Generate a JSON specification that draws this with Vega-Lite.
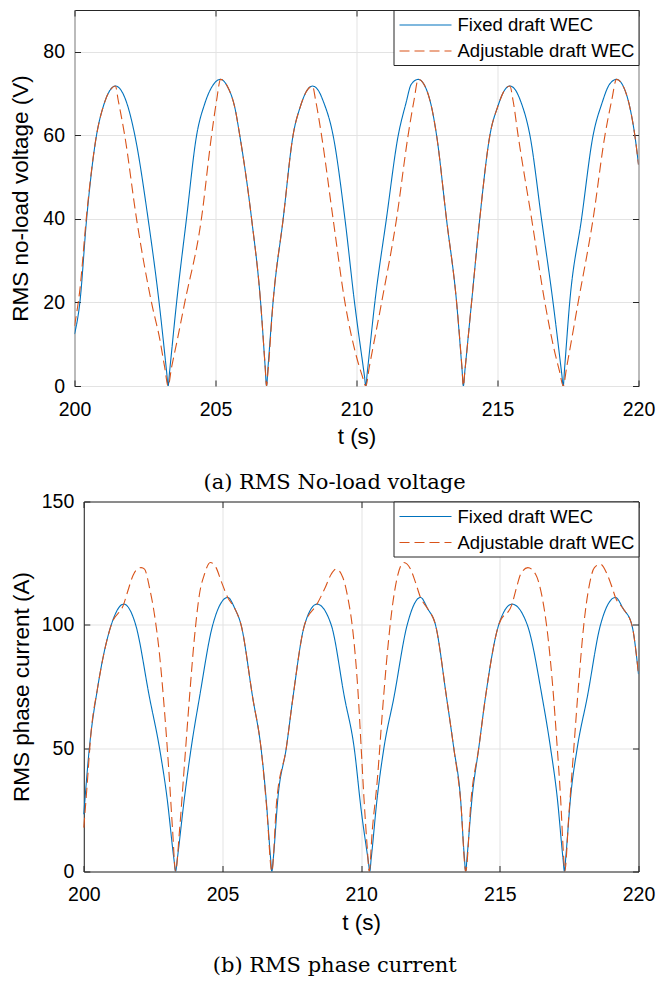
{
  "$schema": "https://vega.github.io/schema/vega-lite/v6.json",
  "padding": {"left": 8.5, "top": 9, "right": 5, "bottom": 0},
  "config": {
    "view": {"stroke": "#262626", "strokeWidth": 1},
    "axis": {
      "domain": false,
      "domainColor": "#262626",
      "domainWidth": 1,
      "grid": true,
      "gridColor": "#e3e3e3",
      "gridWidth": 1,
      "tickColor": "#262626",
      "tickSize": -6,
      "labelFont": "Liberation Sans",
      "labelFontSize": 19.5,
      "labelColor": "black",
      "titleFont": "Liberation Sans",
      "titleFontSize": 22.5,
      "titleFontWeight": "normal",
      "titleColor": "black"
    },
    "axisX": {"labelPadding": 20, "titlePadding": 7, "labelFlush": false},
    "axisY": {"labelPadding": 16, "titlePadding": 8},
    "legend": {
      "orient": "top-right",
      "offset": 0,
      "padding": 4,
      "strokeColor": "#262626",
      "fillColor": "white",
      "symbolType": "M-2.6,0H2.6",
      "symbolSize": 400,
      "symbolStrokeWidth": 1.1,
      "symbolOffset": 17,
      "labelOffset": 21,
      "labelFont": "Liberation Sans",
      "labelFontSize": 18.5,
      "labelColor": "black",
      "labelLimit": 400,
      "rowPadding": 5
    },
    "title": {"font": "DejaVu Serif", "fontSize": 21, "fontWeight": "normal", "color": "black"}
  },
  "datasets": {
    "voltage": [
      {"s": "Fixed draft WEC", "t": 200.0, "v": 12.4},
      {"s": "Fixed draft WEC", "t": 200.19, "v": 20},
      {"s": "Fixed draft WEC", "t": 200.43, "v": 40},
      {"s": "Fixed draft WEC", "t": 200.78, "v": 60},
      {"s": "Fixed draft WEC", "t": 201.02, "v": 66.9},
      {"s": "Fixed draft WEC", "t": 201.25, "v": 70.7},
      {"s": "Fixed draft WEC", "t": 201.45, "v": 71.8},
      {"s": "Fixed draft WEC", "t": 201.65, "v": 70.8},
      {"s": "Fixed draft WEC", "t": 201.84, "v": 68.0},
      {"s": "Fixed draft WEC", "t": 202.14, "v": 60},
      {"s": "Fixed draft WEC", "t": 202.61, "v": 40},
      {"s": "Fixed draft WEC", "t": 203.0, "v": 20},
      {"s": "Fixed draft WEC", "t": 203.27, "v": 3.2},
      {"s": "Fixed draft WEC", "t": 203.32, "v": 0},
      {"s": "Fixed draft WEC", "t": 203.37, "v": 3.3},
      {"s": "Fixed draft WEC", "t": 203.62, "v": 20},
      {"s": "Fixed draft WEC", "t": 203.97, "v": 40},
      {"s": "Fixed draft WEC", "t": 204.33, "v": 60},
      {"s": "Fixed draft WEC", "t": 204.62, "v": 67.6},
      {"s": "Fixed draft WEC", "t": 204.93, "v": 72.2},
      {"s": "Fixed draft WEC", "t": 205.18, "v": 73.4},
      {"s": "Fixed draft WEC", "t": 205.43, "v": 71.6},
      {"s": "Fixed draft WEC", "t": 205.69, "v": 66.5},
      {"s": "Fixed draft WEC", "t": 205.86, "v": 60},
      {"s": "Fixed draft WEC", "t": 206.28, "v": 40},
      {"s": "Fixed draft WEC", "t": 206.6, "v": 20},
      {"s": "Fixed draft WEC", "t": 206.76, "v": 4.7},
      {"s": "Fixed draft WEC", "t": 206.81, "v": 0},
      {"s": "Fixed draft WEC", "t": 206.86, "v": 4.3},
      {"s": "Fixed draft WEC", "t": 207.04, "v": 20},
      {"s": "Fixed draft WEC", "t": 207.4, "v": 40},
      {"s": "Fixed draft WEC", "t": 207.75, "v": 60},
      {"s": "Fixed draft WEC", "t": 208.01, "v": 66.9},
      {"s": "Fixed draft WEC", "t": 208.24, "v": 70.7},
      {"s": "Fixed draft WEC", "t": 208.44, "v": 71.8},
      {"s": "Fixed draft WEC", "t": 208.64, "v": 70.8},
      {"s": "Fixed draft WEC", "t": 208.83, "v": 68.0},
      {"s": "Fixed draft WEC", "t": 209.17, "v": 60},
      {"s": "Fixed draft WEC", "t": 209.59, "v": 40},
      {"s": "Fixed draft WEC", "t": 209.93, "v": 20},
      {"s": "Fixed draft WEC", "t": 210.28, "v": 2.5},
      {"s": "Fixed draft WEC", "t": 210.33, "v": 0},
      {"s": "Fixed draft WEC", "t": 210.38, "v": 3.1},
      {"s": "Fixed draft WEC", "t": 210.65, "v": 20},
      {"s": "Fixed draft WEC", "t": 211.06, "v": 40},
      {"s": "Fixed draft WEC", "t": 211.48, "v": 60},
      {"s": "Fixed draft WEC", "t": 211.75, "v": 67.6},
      {"s": "Fixed draft WEC", "t": 211.94, "v": 72.2},
      {"s": "Fixed draft WEC", "t": 212.19, "v": 73.4},
      {"s": "Fixed draft WEC", "t": 212.44, "v": 71.6},
      {"s": "Fixed draft WEC", "t": 212.67, "v": 66.5},
      {"s": "Fixed draft WEC", "t": 212.84, "v": 60},
      {"s": "Fixed draft WEC", "t": 213.19, "v": 40},
      {"s": "Fixed draft WEC", "t": 213.55, "v": 20},
      {"s": "Fixed draft WEC", "t": 213.74, "v": 4.2},
      {"s": "Fixed draft WEC", "t": 213.79, "v": 0},
      {"s": "Fixed draft WEC", "t": 213.84, "v": 3.4},
      {"s": "Fixed draft WEC", "t": 214.08, "v": 20},
      {"s": "Fixed draft WEC", "t": 214.37, "v": 40},
      {"s": "Fixed draft WEC", "t": 214.73, "v": 60},
      {"s": "Fixed draft WEC", "t": 215.01, "v": 66.9},
      {"s": "Fixed draft WEC", "t": 215.24, "v": 70.7},
      {"s": "Fixed draft WEC", "t": 215.44, "v": 71.8},
      {"s": "Fixed draft WEC", "t": 215.64, "v": 70.8},
      {"s": "Fixed draft WEC", "t": 215.83, "v": 68.0},
      {"s": "Fixed draft WEC", "t": 216.15, "v": 60},
      {"s": "Fixed draft WEC", "t": 216.56, "v": 40},
      {"s": "Fixed draft WEC", "t": 216.97, "v": 20},
      {"s": "Fixed draft WEC", "t": 217.28, "v": 2.8},
      {"s": "Fixed draft WEC", "t": 217.33, "v": 0},
      {"s": "Fixed draft WEC", "t": 217.38, "v": 4.3},
      {"s": "Fixed draft WEC", "t": 217.56, "v": 20},
      {"s": "Fixed draft WEC", "t": 217.98, "v": 40},
      {"s": "Fixed draft WEC", "t": 218.39, "v": 60},
      {"s": "Fixed draft WEC", "t": 218.7, "v": 67.6},
      {"s": "Fixed draft WEC", "t": 218.97, "v": 72.2},
      {"s": "Fixed draft WEC", "t": 219.22, "v": 73.4},
      {"s": "Fixed draft WEC", "t": 219.47, "v": 71.6},
      {"s": "Fixed draft WEC", "t": 219.7, "v": 66.5},
      {"s": "Fixed draft WEC", "t": 219.87, "v": 60},
      {"s": "Fixed draft WEC", "t": 220.0, "v": 53},
      {"s": "Adjustable draft WEC", "t": 200.0, "v": 14.4},
      {"s": "Adjustable draft WEC", "t": 200.19, "v": 23},
      {"s": "Adjustable draft WEC", "t": 200.43, "v": 41},
      {"s": "Adjustable draft WEC", "t": 200.78, "v": 60},
      {"s": "Adjustable draft WEC", "t": 201.02, "v": 66.9},
      {"s": "Adjustable draft WEC", "t": 201.25, "v": 70.7},
      {"s": "Adjustable draft WEC", "t": 201.45, "v": 71.8},
      {"s": "Adjustable draft WEC", "t": 201.55, "v": 68.4},
      {"s": "Adjustable draft WEC", "t": 201.78, "v": 60},
      {"s": "Adjustable draft WEC", "t": 202.2, "v": 40},
      {"s": "Adjustable draft WEC", "t": 202.73, "v": 20},
      {"s": "Adjustable draft WEC", "t": 203.03, "v": 11},
      {"s": "Adjustable draft WEC", "t": 203.2, "v": 4.4},
      {"s": "Adjustable draft WEC", "t": 203.32, "v": 0},
      {"s": "Adjustable draft WEC", "t": 203.44, "v": 4.4},
      {"s": "Adjustable draft WEC", "t": 203.62, "v": 10.2},
      {"s": "Adjustable draft WEC", "t": 203.91, "v": 20},
      {"s": "Adjustable draft WEC", "t": 204.5, "v": 40},
      {"s": "Adjustable draft WEC", "t": 204.86, "v": 60},
      {"s": "Adjustable draft WEC", "t": 205.04, "v": 68.4},
      {"s": "Adjustable draft WEC", "t": 205.18, "v": 73.4},
      {"s": "Adjustable draft WEC", "t": 205.43, "v": 71.6},
      {"s": "Adjustable draft WEC", "t": 205.69, "v": 66.5},
      {"s": "Adjustable draft WEC", "t": 205.86, "v": 60},
      {"s": "Adjustable draft WEC", "t": 206.28, "v": 40},
      {"s": "Adjustable draft WEC", "t": 206.6, "v": 20},
      {"s": "Adjustable draft WEC", "t": 206.76, "v": 4.7},
      {"s": "Adjustable draft WEC", "t": 206.81, "v": 0},
      {"s": "Adjustable draft WEC", "t": 206.86, "v": 3.3},
      {"s": "Adjustable draft WEC", "t": 207.04, "v": 20},
      {"s": "Adjustable draft WEC", "t": 207.4, "v": 40},
      {"s": "Adjustable draft WEC", "t": 207.75, "v": 60},
      {"s": "Adjustable draft WEC", "t": 208.01, "v": 66.9},
      {"s": "Adjustable draft WEC", "t": 208.24, "v": 70.7},
      {"s": "Adjustable draft WEC", "t": 208.44, "v": 71.8},
      {"s": "Adjustable draft WEC", "t": 208.55, "v": 68.4},
      {"s": "Adjustable draft WEC", "t": 208.76, "v": 60},
      {"s": "Adjustable draft WEC", "t": 209.17, "v": 40},
      {"s": "Adjustable draft WEC", "t": 209.59, "v": 20},
      {"s": "Adjustable draft WEC", "t": 210.0, "v": 7},
      {"s": "Adjustable draft WEC", "t": 210.2, "v": 2.5},
      {"s": "Adjustable draft WEC", "t": 210.33, "v": 0},
      {"s": "Adjustable draft WEC", "t": 210.45, "v": 4.4},
      {"s": "Adjustable draft WEC", "t": 210.89, "v": 20},
      {"s": "Adjustable draft WEC", "t": 211.42, "v": 40},
      {"s": "Adjustable draft WEC", "t": 211.83, "v": 60},
      {"s": "Adjustable draft WEC", "t": 212.04, "v": 68.4},
      {"s": "Adjustable draft WEC", "t": 212.19, "v": 73.4},
      {"s": "Adjustable draft WEC", "t": 212.44, "v": 71.6},
      {"s": "Adjustable draft WEC", "t": 212.67, "v": 66.5},
      {"s": "Adjustable draft WEC", "t": 212.84, "v": 60},
      {"s": "Adjustable draft WEC", "t": 213.19, "v": 40},
      {"s": "Adjustable draft WEC", "t": 213.55, "v": 20},
      {"s": "Adjustable draft WEC", "t": 213.74, "v": 4.5},
      {"s": "Adjustable draft WEC", "t": 213.79, "v": 0},
      {"s": "Adjustable draft WEC", "t": 213.84, "v": 3.3},
      {"s": "Adjustable draft WEC", "t": 214.08, "v": 20},
      {"s": "Adjustable draft WEC", "t": 214.37, "v": 40},
      {"s": "Adjustable draft WEC", "t": 214.73, "v": 60},
      {"s": "Adjustable draft WEC", "t": 215.01, "v": 66.9},
      {"s": "Adjustable draft WEC", "t": 215.24, "v": 70.7},
      {"s": "Adjustable draft WEC", "t": 215.44, "v": 71.8},
      {"s": "Adjustable draft WEC", "t": 215.55, "v": 68.4},
      {"s": "Adjustable draft WEC", "t": 215.73, "v": 60},
      {"s": "Adjustable draft WEC", "t": 216.21, "v": 40},
      {"s": "Adjustable draft WEC", "t": 216.68, "v": 20},
      {"s": "Adjustable draft WEC", "t": 217.0, "v": 9},
      {"s": "Adjustable draft WEC", "t": 217.2, "v": 3.5},
      {"s": "Adjustable draft WEC", "t": 217.33, "v": 0},
      {"s": "Adjustable draft WEC", "t": 217.45, "v": 4.4},
      {"s": "Adjustable draft WEC", "t": 217.86, "v": 20},
      {"s": "Adjustable draft WEC", "t": 218.39, "v": 40},
      {"s": "Adjustable draft WEC", "t": 218.81, "v": 60},
      {"s": "Adjustable draft WEC", "t": 219.05, "v": 68.4},
      {"s": "Adjustable draft WEC", "t": 219.22, "v": 73.4},
      {"s": "Adjustable draft WEC", "t": 219.47, "v": 71.6},
      {"s": "Adjustable draft WEC", "t": 219.7, "v": 66.5},
      {"s": "Adjustable draft WEC", "t": 219.87, "v": 60},
      {"s": "Adjustable draft WEC", "t": 220.0, "v": 53}
    ],
    "current": [
      {"s": "Fixed draft WEC", "t": 200.0, "v": 23.2},
      {"s": "Fixed draft WEC", "t": 200.2, "v": 50},
      {"s": "Fixed draft WEC", "t": 200.5, "v": 74.6},
      {"s": "Fixed draft WEC", "t": 200.99, "v": 100},
      {"s": "Fixed draft WEC", "t": 201.44, "v": 108.4},
      {"s": "Fixed draft WEC", "t": 201.87, "v": 100},
      {"s": "Fixed draft WEC", "t": 202.37, "v": 70.5},
      {"s": "Fixed draft WEC", "t": 202.73, "v": 50},
      {"s": "Fixed draft WEC", "t": 203.0, "v": 30},
      {"s": "Fixed draft WEC", "t": 203.25, "v": 5},
      {"s": "Fixed draft WEC", "t": 203.31, "v": 0},
      {"s": "Fixed draft WEC", "t": 203.37, "v": 5},
      {"s": "Fixed draft WEC", "t": 203.63, "v": 30},
      {"s": "Fixed draft WEC", "t": 203.87, "v": 50},
      {"s": "Fixed draft WEC", "t": 204.17, "v": 70.5},
      {"s": "Fixed draft WEC", "t": 204.65, "v": 100},
      {"s": "Fixed draft WEC", "t": 205.19, "v": 111.1},
      {"s": "Fixed draft WEC", "t": 205.45, "v": 106.5},
      {"s": "Fixed draft WEC", "t": 205.67, "v": 100},
      {"s": "Fixed draft WEC", "t": 206.09, "v": 70.5},
      {"s": "Fixed draft WEC", "t": 206.39, "v": 50},
      {"s": "Fixed draft WEC", "t": 206.57, "v": 30},
      {"s": "Fixed draft WEC", "t": 206.73, "v": 6},
      {"s": "Fixed draft WEC", "t": 206.78, "v": 0},
      {"s": "Fixed draft WEC", "t": 206.83, "v": 5},
      {"s": "Fixed draft WEC", "t": 207.0, "v": 30},
      {"s": "Fixed draft WEC", "t": 207.3, "v": 50},
      {"s": "Fixed draft WEC", "t": 207.54, "v": 70.5},
      {"s": "Fixed draft WEC", "t": 207.96, "v": 100},
      {"s": "Fixed draft WEC", "t": 208.41, "v": 108.4},
      {"s": "Fixed draft WEC", "t": 208.92, "v": 100},
      {"s": "Fixed draft WEC", "t": 209.4, "v": 70.5},
      {"s": "Fixed draft WEC", "t": 209.75, "v": 50},
      {"s": "Fixed draft WEC", "t": 210.0, "v": 25},
      {"s": "Fixed draft WEC", "t": 210.26, "v": 4},
      {"s": "Fixed draft WEC", "t": 210.31, "v": 0},
      {"s": "Fixed draft WEC", "t": 210.36, "v": 5},
      {"s": "Fixed draft WEC", "t": 210.58, "v": 30},
      {"s": "Fixed draft WEC", "t": 210.82, "v": 50},
      {"s": "Fixed draft WEC", "t": 211.18, "v": 70.5},
      {"s": "Fixed draft WEC", "t": 211.66, "v": 100},
      {"s": "Fixed draft WEC", "t": 212.14, "v": 111.1},
      {"s": "Fixed draft WEC", "t": 212.4, "v": 106.5},
      {"s": "Fixed draft WEC", "t": 212.68, "v": 100},
      {"s": "Fixed draft WEC", "t": 213.08, "v": 70.5},
      {"s": "Fixed draft WEC", "t": 213.34, "v": 50},
      {"s": "Fixed draft WEC", "t": 213.58, "v": 30},
      {"s": "Fixed draft WEC", "t": 213.72, "v": 6},
      {"s": "Fixed draft WEC", "t": 213.77, "v": 0},
      {"s": "Fixed draft WEC", "t": 213.82, "v": 6},
      {"s": "Fixed draft WEC", "t": 214.0, "v": 30},
      {"s": "Fixed draft WEC", "t": 214.24, "v": 50},
      {"s": "Fixed draft WEC", "t": 214.48, "v": 70.5},
      {"s": "Fixed draft WEC", "t": 214.96, "v": 100},
      {"s": "Fixed draft WEC", "t": 215.44, "v": 108.4},
      {"s": "Fixed draft WEC", "t": 215.99, "v": 100},
      {"s": "Fixed draft WEC", "t": 216.53, "v": 70.5},
      {"s": "Fixed draft WEC", "t": 216.83, "v": 50},
      {"s": "Fixed draft WEC", "t": 217.07, "v": 30},
      {"s": "Fixed draft WEC", "t": 217.28, "v": 5},
      {"s": "Fixed draft WEC", "t": 217.33, "v": 0},
      {"s": "Fixed draft WEC", "t": 217.38, "v": 6},
      {"s": "Fixed draft WEC", "t": 217.55, "v": 30},
      {"s": "Fixed draft WEC", "t": 217.79, "v": 50},
      {"s": "Fixed draft WEC", "t": 218.15, "v": 70.5},
      {"s": "Fixed draft WEC", "t": 218.63, "v": 100},
      {"s": "Fixed draft WEC", "t": 219.17, "v": 111.1},
      {"s": "Fixed draft WEC", "t": 219.45, "v": 106.5},
      {"s": "Fixed draft WEC", "t": 219.76, "v": 100},
      {"s": "Fixed draft WEC", "t": 220.0, "v": 80},
      {"s": "Adjustable draft WEC", "t": 200.0, "v": 17.8},
      {"s": "Adjustable draft WEC", "t": 200.12, "v": 35},
      {"s": "Adjustable draft WEC", "t": 200.25, "v": 55},
      {"s": "Adjustable draft WEC", "t": 200.5, "v": 74.6},
      {"s": "Adjustable draft WEC", "t": 200.99, "v": 100},
      {"s": "Adjustable draft WEC", "t": 201.44, "v": 108.4},
      {"s": "Adjustable draft WEC", "t": 201.59, "v": 113.8},
      {"s": "Adjustable draft WEC", "t": 201.77, "v": 119.9},
      {"s": "Adjustable draft WEC", "t": 201.95, "v": 122.8},
      {"s": "Adjustable draft WEC", "t": 202.07, "v": 123.2},
      {"s": "Adjustable draft WEC", "t": 202.19, "v": 122.6},
      {"s": "Adjustable draft WEC", "t": 202.37, "v": 115},
      {"s": "Adjustable draft WEC", "t": 202.55, "v": 104},
      {"s": "Adjustable draft WEC", "t": 202.73, "v": 88},
      {"s": "Adjustable draft WEC", "t": 202.91, "v": 65},
      {"s": "Adjustable draft WEC", "t": 203.09, "v": 36.8},
      {"s": "Adjustable draft WEC", "t": 203.2, "v": 17},
      {"s": "Adjustable draft WEC", "t": 203.31, "v": 0},
      {"s": "Adjustable draft WEC", "t": 203.45, "v": 16.5},
      {"s": "Adjustable draft WEC", "t": 203.63, "v": 43.5},
      {"s": "Adjustable draft WEC", "t": 203.81, "v": 70.5},
      {"s": "Adjustable draft WEC", "t": 203.99, "v": 94.9},
      {"s": "Adjustable draft WEC", "t": 204.17, "v": 112.4},
      {"s": "Adjustable draft WEC", "t": 204.35, "v": 120.5},
      {"s": "Adjustable draft WEC", "t": 204.56, "v": 125.3},
      {"s": "Adjustable draft WEC", "t": 204.77, "v": 123.2},
      {"s": "Adjustable draft WEC", "t": 204.95, "v": 117.8},
      {"s": "Adjustable draft WEC", "t": 205.19, "v": 111.1},
      {"s": "Adjustable draft WEC", "t": 205.45, "v": 106.5},
      {"s": "Adjustable draft WEC", "t": 205.67, "v": 100},
      {"s": "Adjustable draft WEC", "t": 206.09, "v": 70.5},
      {"s": "Adjustable draft WEC", "t": 206.39, "v": 50},
      {"s": "Adjustable draft WEC", "t": 206.6, "v": 25},
      {"s": "Adjustable draft WEC", "t": 206.78, "v": 0},
      {"s": "Adjustable draft WEC", "t": 206.95, "v": 28},
      {"s": "Adjustable draft WEC", "t": 207.3, "v": 50},
      {"s": "Adjustable draft WEC", "t": 207.54, "v": 70.5},
      {"s": "Adjustable draft WEC", "t": 207.96, "v": 100},
      {"s": "Adjustable draft WEC", "t": 208.41, "v": 108.4},
      {"s": "Adjustable draft WEC", "t": 208.68, "v": 114.5},
      {"s": "Adjustable draft WEC", "t": 208.92, "v": 120.5},
      {"s": "Adjustable draft WEC", "t": 209.1, "v": 122.6},
      {"s": "Adjustable draft WEC", "t": 209.34, "v": 119.2},
      {"s": "Adjustable draft WEC", "t": 209.52, "v": 111},
      {"s": "Adjustable draft WEC", "t": 209.7, "v": 97.6},
      {"s": "Adjustable draft WEC", "t": 209.88, "v": 74},
      {"s": "Adjustable draft WEC", "t": 210.0, "v": 50.3},
      {"s": "Adjustable draft WEC", "t": 210.1, "v": 30},
      {"s": "Adjustable draft WEC", "t": 210.22, "v": 9.7},
      {"s": "Adjustable draft WEC", "t": 210.29, "v": 0},
      {"s": "Adjustable draft WEC", "t": 210.4, "v": 16.5},
      {"s": "Adjustable draft WEC", "t": 210.58, "v": 36.8},
      {"s": "Adjustable draft WEC", "t": 210.76, "v": 63.8},
      {"s": "Adjustable draft WEC", "t": 210.94, "v": 88.1},
      {"s": "Adjustable draft WEC", "t": 211.12, "v": 107},
      {"s": "Adjustable draft WEC", "t": 211.3, "v": 119.2},
      {"s": "Adjustable draft WEC", "t": 211.54, "v": 125.3},
      {"s": "Adjustable draft WEC", "t": 211.78, "v": 122.6},
      {"s": "Adjustable draft WEC", "t": 211.96, "v": 117.2},
      {"s": "Adjustable draft WEC", "t": 212.14, "v": 111.1},
      {"s": "Adjustable draft WEC", "t": 212.4, "v": 106.5},
      {"s": "Adjustable draft WEC", "t": 212.68, "v": 100},
      {"s": "Adjustable draft WEC", "t": 213.08, "v": 70.5},
      {"s": "Adjustable draft WEC", "t": 213.34, "v": 50},
      {"s": "Adjustable draft WEC", "t": 213.6, "v": 27},
      {"s": "Adjustable draft WEC", "t": 213.77, "v": 0},
      {"s": "Adjustable draft WEC", "t": 213.97, "v": 30},
      {"s": "Adjustable draft WEC", "t": 214.24, "v": 50},
      {"s": "Adjustable draft WEC", "t": 214.48, "v": 70.5},
      {"s": "Adjustable draft WEC", "t": 214.96, "v": 100},
      {"s": "Adjustable draft WEC", "t": 215.44, "v": 108.4},
      {"s": "Adjustable draft WEC", "t": 215.6, "v": 115},
      {"s": "Adjustable draft WEC", "t": 215.75, "v": 120.5},
      {"s": "Adjustable draft WEC", "t": 216.01, "v": 123.2},
      {"s": "Adjustable draft WEC", "t": 216.29, "v": 120.5},
      {"s": "Adjustable draft WEC", "t": 216.53, "v": 111},
      {"s": "Adjustable draft WEC", "t": 216.71, "v": 97.6},
      {"s": "Adjustable draft WEC", "t": 216.89, "v": 77.3},
      {"s": "Adjustable draft WEC", "t": 217.07, "v": 50.3},
      {"s": "Adjustable draft WEC", "t": 217.19, "v": 30},
      {"s": "Adjustable draft WEC", "t": 217.3, "v": 6},
      {"s": "Adjustable draft WEC", "t": 217.34, "v": 0},
      {"s": "Adjustable draft WEC", "t": 217.49, "v": 23.2},
      {"s": "Adjustable draft WEC", "t": 217.67, "v": 50.3},
      {"s": "Adjustable draft WEC", "t": 217.85, "v": 77.3},
      {"s": "Adjustable draft WEC", "t": 218.03, "v": 100.3},
      {"s": "Adjustable draft WEC", "t": 218.21, "v": 115.1},
      {"s": "Adjustable draft WEC", "t": 218.41, "v": 123.2},
      {"s": "Adjustable draft WEC", "t": 218.63, "v": 124.6},
      {"s": "Adjustable draft WEC", "t": 218.87, "v": 120.5},
      {"s": "Adjustable draft WEC", "t": 219.05, "v": 115.1},
      {"s": "Adjustable draft WEC", "t": 219.17, "v": 111.1},
      {"s": "Adjustable draft WEC", "t": 219.45, "v": 106.5},
      {"s": "Adjustable draft WEC", "t": 219.76, "v": 100},
      {"s": "Adjustable draft WEC", "t": 220.0, "v": 80}
    ]
  },
  "spacing": -2.5,
  "resolve": {
    "scale": {"color": "independent", "strokeDash": "independent"},
    "legend": {"color": "independent", "strokeDash": "independent"}
  },
  "vconcat": [
    {
      "width": 564,
      "height": 376,
      "title": {"text": "(a) RMS No-load voltage", "orient": "bottom", "offset": 24, "dx": -22},
      "data": {"name": "voltage"},
      "resolve": {"axis": {"x": "independent", "y": "independent"}},
      "layer": [
        {
          "mark": {"type": "line", "interpolate": "monotone", "strokeWidth": 1.1, "clip": true},
          "encoding": {
            "x": {"field": "t", "type": "quantitative", "scale": {"domain": [200, 220], "nice": false, "zero": false}, "axis": {"title": "t (s)", "values": [200, 205, 210, 215, 220]}},
            "y": {"field": "v", "type": "quantitative", "scale": {"domain": [0, 90], "nice": false}, "axis": {"title": "RMS no-load voltage (V)", "values": [0, 20, 40, 60, 80], "titlePadding": 10}},
            "color": {"field": "s", "type": "nominal", "scale": {"domain": ["Fixed draft WEC", "Adjustable draft WEC"], "range": ["#0072BD", "#D95319"]}, "legend": {"title": null}},
            "strokeDash": {"field": "s", "type": "nominal", "scale": {"domain": ["Fixed draft WEC", "Adjustable draft WEC"], "range": [[1, 0], [10, 5]]}, "legend": {"title": null}}
          }
        },
        {
          "mark": {"type": "line", "opacity": 0},
          "encoding": {
            "x": {"field": "t", "type": "quantitative", "axis": {"orient": "top", "title": null, "labels": false, "grid": false, "values": [200, 205, 210, 215, 220]}},
            "y": {"field": "v", "type": "quantitative", "axis": {"orient": "right", "title": null, "labels": false, "grid": false, "values": [0, 20, 40, 60, 80]}}
          }
        }
      ]
    },
    {
      "width": 564,
      "height": 370,
      "view": {"stroke": null},
      "title": {"text": "(b) RMS phase current", "orient": "bottom", "offset": 21.5, "dx": -21.7},
      "data": {"name": "current"},
      "resolve": {"axis": {"x": "independent", "y": "independent"}},
      "layer": [
        {
          "mark": {"type": "line", "interpolate": "monotone", "strokeWidth": 1.1, "clip": true},
          "encoding": {
            "x": {"field": "t", "type": "quantitative", "scale": {"domain": [200, 220], "nice": false, "zero": false, "range": [9.3, 564]}, "axis": {"title": "t (s)", "values": [200, 205, 210, 215, 220], "domain": true}},
            "y": {"field": "v", "type": "quantitative", "scale": {"domain": [0, 150], "nice": false}, "axis": {"title": "RMS phase current (A)", "values": [0, 50, 100, 150], "titlePadding": 8, "offset": -9.3, "domain": true}},
            "color": {"field": "s", "type": "nominal", "scale": {"domain": ["Fixed draft WEC", "Adjustable draft WEC"], "range": ["#0072BD", "#D95319"]}, "legend": {"title": null}},
            "strokeDash": {"field": "s", "type": "nominal", "scale": {"domain": ["Fixed draft WEC", "Adjustable draft WEC"], "range": [[1, 0], [10, 5]]}, "legend": {"title": null}}
          }
        },
        {
          "mark": {"type": "line", "opacity": 0},
          "encoding": {
            "x": {"field": "t", "type": "quantitative", "axis": {"orient": "top", "title": null, "labels": false, "grid": false, "domain": true, "values": [200, 205, 210, 215, 220]}},
            "y": {"field": "v", "type": "quantitative", "axis": {"orient": "right", "title": null, "labels": false, "grid": false, "domain": true, "values": [0, 50, 100, 150]}}
          }
        }
      ]
    }
  ]
}
